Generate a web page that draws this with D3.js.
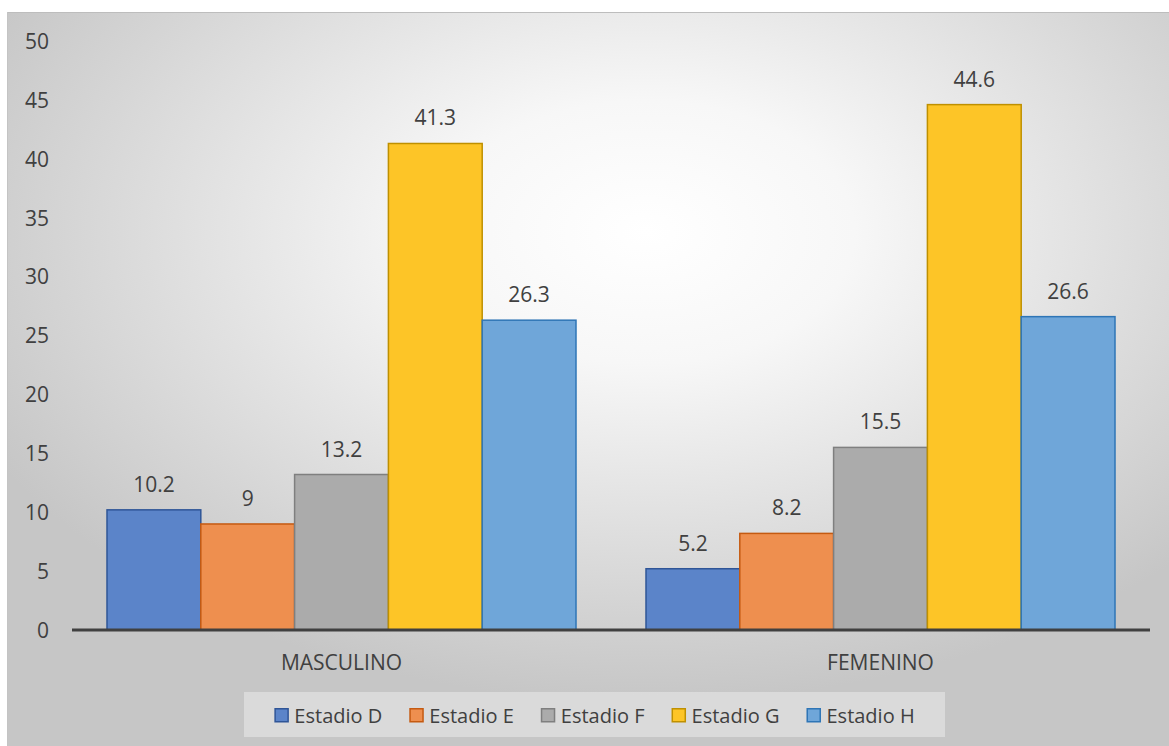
<!DOCTYPE html>
<html>
<head>
<meta charset="utf-8">
<script src="https://cdn.jsdelivr.net/npm/d3@7"></script>
<style>
  html, body { margin: 0; padding: 0; background: #ffffff; }
  svg { display: block; }
  text { font-family: "Open Sans", "Noto Sans", sans-serif; fill: #404040; }
</style>
</head>
<body>
<svg id="chart" width="1169" height="746"></svg>
<script>
// Groups on the x axis
const categories = ["MASCULINO", "FEMENINO"];
// Series names (legend order)
const seriesNames = ["Estadio D", "Estadio E", "Estadio F", "Estadio G", "Estadio H"];
// Values per series, one per category
const estadioD = [10.2, 5.2];
const estadioE = [9, 8.2];
const estadioF = [13.2, 15.5];
const estadioG = [41.3, 44.6];
const estadioH = [26.3, 26.6];
// Y axis ticks
const yTicks = [0, 5, 10, 15, 20, 25, 30, 35, 40, 45, 50];

const seriesValues = [estadioD, estadioE, estadioF, estadioG, estadioH];
const fills   = ["#5b84c9", "#ee8f4f", "#ababab", "#fdc527", "#6fa6d9"];
const strokes = ["#2f5597", "#c55a11", "#7f7f7f", "#bf9000", "#2e75b6"];

const svg = d3.select("#chart");
const defs = svg.append("defs");

// Chart area background: soft radial light
const grad = defs.append("radialGradient")
  .attr("id", "bg")
  .attr("cx", "0.55").attr("cy", "0.3")
  .attr("fx", "0.55").attr("fy", "0.3")
  .attr("r", "0.64");
grad.append("stop").attr("offset", "0").attr("stop-color", "#ffffff");
grad.append("stop").attr("offset", "0.28").attr("stop-color", "#f7f7f7");
grad.append("stop").attr("offset", "1").attr("stop-color", "#c6c6c6");

svg.append("rect")
  .attr("x", 7).attr("y", 12)
  .attr("width", 1162).attr("height", 734)
  .attr("fill", "url(#bg)");
svg.append("line")
  .attr("x1", 7).attr("x2", 1169).attr("y1", 12.5).attr("y2", 12.5)
  .attr("stroke", "#bdbdbd").attr("stroke-width", 1);
svg.append("line")
  .attr("x1", 7.5).attr("x2", 7.5).attr("y1", 12).attr("y2", 746)
  .attr("stroke", "#c4c4c4").attr("stroke-width", 1);

// Scales
const plotLeft = 72, plotRight = 1150, plotBottom = 630, plotTop = 41;
const x0 = d3.scaleBand().domain(categories).range([plotLeft, plotRight]).padding(0);
const groupPad = 35;
const x1 = d3.scaleBand().domain(seriesNames)
  .range([groupPad, x0.bandwidth() - groupPad]).padding(0);
const y = d3.scaleLinear().domain([0, 50]).range([plotBottom, plotTop]);

// Y axis labels (no axis line, no ticks)
const yAxis = d3.axisLeft(y).tickValues(yTicks).tickSize(0).tickPadding(0);
const yg = svg.append("g").attr("transform", "translate(49,0)").call(yAxis);
yg.select(".domain").remove();
yg.selectAll("text")
  .attr("font-size", 21)
  .attr("font-family", "Open Sans")
  .attr("fill", "#404040")
  .attr("dy", "0.35em");

// Bars
const groups = svg.append("g").selectAll("g")
  .data(categories)
  .join("g")
  .attr("transform", d => `translate(${x0(d)},0)`);

groups.each(function(cat, ci) {
  const g = d3.select(this);
  seriesNames.forEach((name, si) => {
    const v = seriesValues[si][ci];
    g.append("rect")
      .attr("x", x1(name))
      .attr("y", y(v))
      .attr("width", x1.bandwidth())
      .attr("height", y(0) - y(v))
      .attr("fill", fills[si])
      .attr("stroke", strokes[si])
      .attr("stroke-width", 1.5);
    g.append("text")
      .attr("x", x1(name) + x1.bandwidth() / 2)
      .attr("y", y(v) - 18)
      .attr("text-anchor", "middle")
      .attr("font-size", 21)
      .text(v);
  });
});

// X axis line and category labels
const xAxis = d3.axisBottom(x0).tickSize(0).tickPadding(0);
const xg = svg.append("g").attr("transform", `translate(0,${plotBottom})`).call(xAxis);
xg.select(".domain")
  .attr("d", `M${plotLeft},0H${plotRight}`)
  .attr("stroke", "#404040").attr("stroke-width", 3);
xg.selectAll("text")
  .attr("font-size", 21)
  .attr("font-family", "Open Sans")
  .attr("fill", "#404040")
  .attr("dy", 0)
  .attr("y", 40);

// Legend
svg.append("rect")
  .attr("x", 244).attr("y", 692)
  .attr("width", 701).attr("height", 45)
  .attr("fill", "#ffffff").attr("fill-opacity", 0.35);

const legend = svg.append("g");
let cx = 0;
seriesNames.forEach((name, i) => {
  const item = legend.append("g").attr("transform", `translate(${cx},0)`);
  item.append("rect")
    .attr("x", 0.75).attr("y", 0.75)
    .attr("width", 13).attr("height", 13)
    .attr("fill", fills[i])
    .attr("stroke", strokes[i])
    .attr("stroke-width", 1.5);
  const t = item.append("text")
    .attr("x", 20).attr("y", 7.5)
    .attr("dy", "0.35em")
    .attr("font-size", 20)
    .text(name);
  cx += 20 + t.node().getComputedTextLength() + 27;
});
const totalW = cx - 27;
legend.attr("transform", `translate(${594.5 - totalW / 2},708)`);
</script>
</body>
</html>
